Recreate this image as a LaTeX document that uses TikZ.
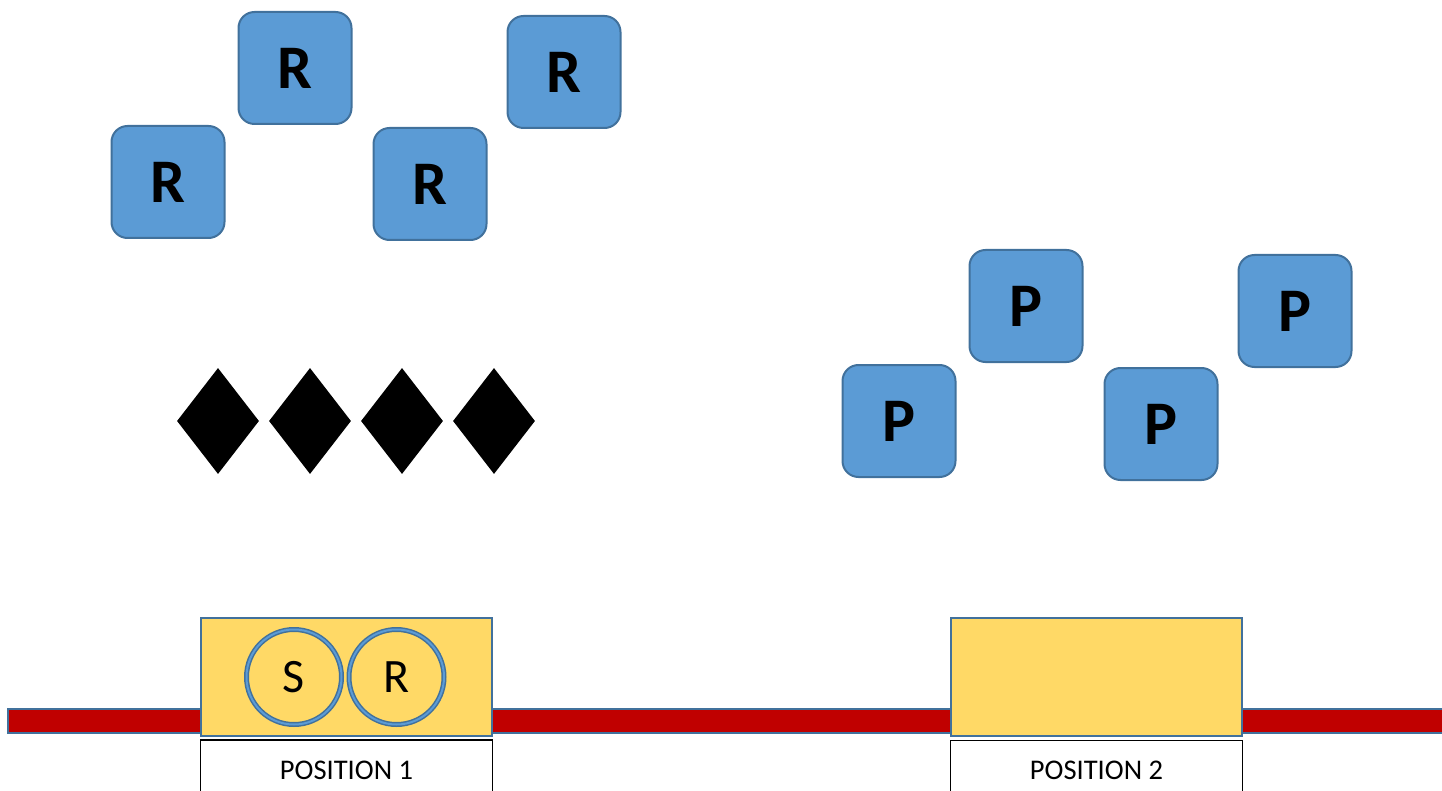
\documentclass[tikz,border=0pt]{standalone}
\usepackage{fontspec}
\setmainfont{Carlito}
\usetikzlibrary{positioning,shapes.geometric}

\definecolor{tileblue}{HTML}{5B9BD5}
\definecolor{edgeblue}{HTML}{41719C}
\definecolor{padyellow}{HTML}{FFD966}
\definecolor{trackred}{HTML}{C00000}

\begin{document}
\begin{tikzpicture}[x=1pt,y=-1pt,node distance=92pt,
    tile/.style={draw=edgeblue,line width=2pt,fill=tileblue,rounded corners=16pt,minimum width=113pt,minimum height=112pt,inner sep=0pt,font=\fontsize{62}{62}\selectfont\bfseries},
    gem/.style={diamond,fill=black,minimum width=82pt,minimum height=106pt,inner sep=0pt},
    pad/.style={draw=edgeblue,line width=2pt,fill=padyellow,minimum width=291pt,minimum height=118pt,inner sep=0pt},
    ring/.style={circle,draw=edgeblue,line width=1.5pt,double=tileblue,double distance=2pt,fill=padyellow,minimum size=95pt,inner sep=0pt,font=\fontsize{48}{48}\selectfont},
    tag/.style={draw=black,line width=1.8pt,fill=white,minimum width=292pt,minimum height=60pt,inner sep=0pt,font=\fontsize{28.5}{28.5}\selectfont}]
    \useasboundingbox (0,0) rectangle (1442,791);

    \node[tile] (r1) at (168,182) {R};
    \node[tile] (r2) at (295,68) {R};
    \node[tile] (r3) at (430,184) {R};
    \node[tile] (r4) at (564,72) {R};

    \node[tile] (p1) at (899,421) {P};
    \node[tile] (p2) at (1026,306) {P};
    \node[tile] (p3) at (1161,424) {P};
    \node[tile] (p4) at (1295,311) {P};

    \node[gem] (d1) at (218,421) {};
    \node[gem] (d2) [right of=d1] {};
    \node[gem] (d3) [right of=d2] {};
    \node[gem] (d4) [right of=d3] {};

    % track
    \draw[draw=edgeblue,line width=1.5pt,fill=trackred] (8,709) rectangle (1452,733);

    \node[pad] (pad1) at (346.5,677) {};
    \node[pad] (pad2) at (1096.5,676.5) {};
    \node[ring] (s) at (294,677) {S};
    \node[ring] (rr) at (396.5,677) {R};

    \node[tag, below=2pt of pad1] (pos1) {POSITION 1};
    \node[tag, below=3pt of pad2] (pos2) {POSITION 2};
\end{tikzpicture}
\end{document}
